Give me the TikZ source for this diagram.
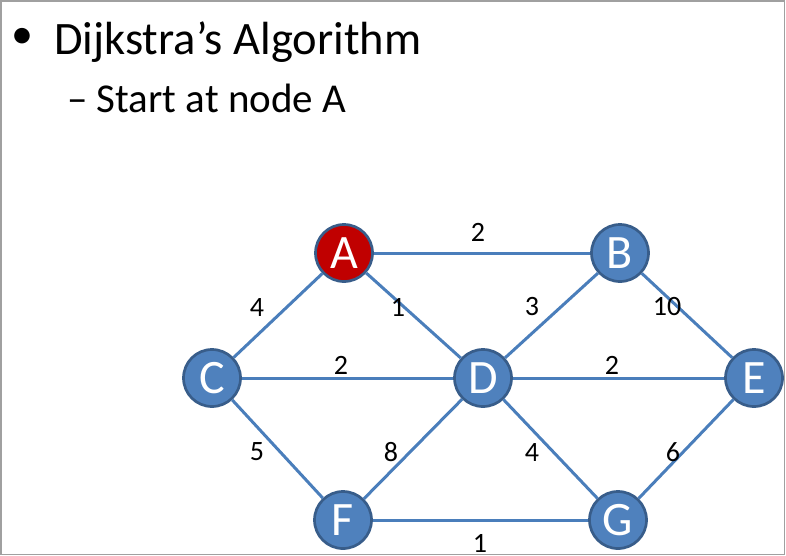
\documentclass[tikz,border=0pt]{standalone}
\usepackage{fontspec}
\setmainfont{Carlito}
\definecolor{edgeblue}{HTML}{4A7EBB}
\definecolor{nodefill}{HTML}{4F81BD}
\definecolor{nodeline}{HTML}{385D8A}
\definecolor{startred}{HTML}{C00000}
\definecolor{framegray}{HTML}{A0A0A0}
\tikzset{
  vert/.style={circle, minimum size=57pt, inner sep=0pt, fill=nodefill, draw=nodeline, line width=2.7pt, text=white, font=\fontsize{48}{48}\selectfont},
  startvert/.style={vert, fill=startred},
  wt/.style={inner sep=0pt, font=\fontsize{28}{28}\selectfont},
  edge/.style={draw=edgeblue, line width=3pt},
  bodytext/.style={anchor=base west, inner sep=0pt}
}
\begin{document}
\begin{tikzpicture}[x=1pt,y=-1pt]
\useasboundingbox (0,0) rectangle (786,555);
\draw[framegray, line width=1.5pt] (0.75,0.75) rectangle (784.5,554.3);
% text
\node[bodytext, font=\fontsize{46.5}{46.5}\selectfont] (title) at (54,54) {Dijkstra’s Algorithm};
\node[inner sep=0pt, font=\fontsize{44}{44}\selectfont] (bul) at (22,38) {•};
\node[bodytext, font=\fontsize{41}{41}\selectfont] (sub) at (67,112) {– Start at node A};
% vertices
\node[startvert] (A) at (344,253) {A};
\node[vert] (B) at (620,253) {B};
\node[vert] (C) at (212,378) {C};
\node[vert] (D) at (483,378) {D};
\node[vert] (E) at (754,378) {E};
\node[vert] (F) at (343,520) {F};
\node[vert] (G) at (618,520) {G};
% edges
\path[edge] (A) -- (B);
\path[edge] (A) -- (C);
\path[edge] (A) -- (D);
\path[edge] (B) -- (D);
\path[edge] (B) -- (E);
\path[edge] (C) -- (D);
\path[edge] (D) -- (E);
\path[edge] (C) -- (F);
\path[edge] (D) -- (F);
\path[edge] (D) -- (G);
\path[edge] (E) -- (G);
\path[edge] (F) -- (G);
% weights
\node[wt] (wAB) at (478,232) {2};
\node[wt] (wAC) at (257,308) {4};
\node[wt] (wAD) at (398,307) {1};
\node[wt] (wCD) at (341,365) {2};
\node[wt] (wBD) at (532,307) {3};
\node[wt] (wBE) at (667,307) {10};
\node[wt] (wDE) at (612,365) {2};
\node[wt] (wCF) at (257,452) {5};
\node[wt] (wDF) at (391,452) {8};
\node[wt] (wDG) at (532,452) {4};
\node[wt] (wEG) at (673,452) {6};
\node[wt] (wFG) at (480,543) {1};
\end{tikzpicture}
\end{document}
